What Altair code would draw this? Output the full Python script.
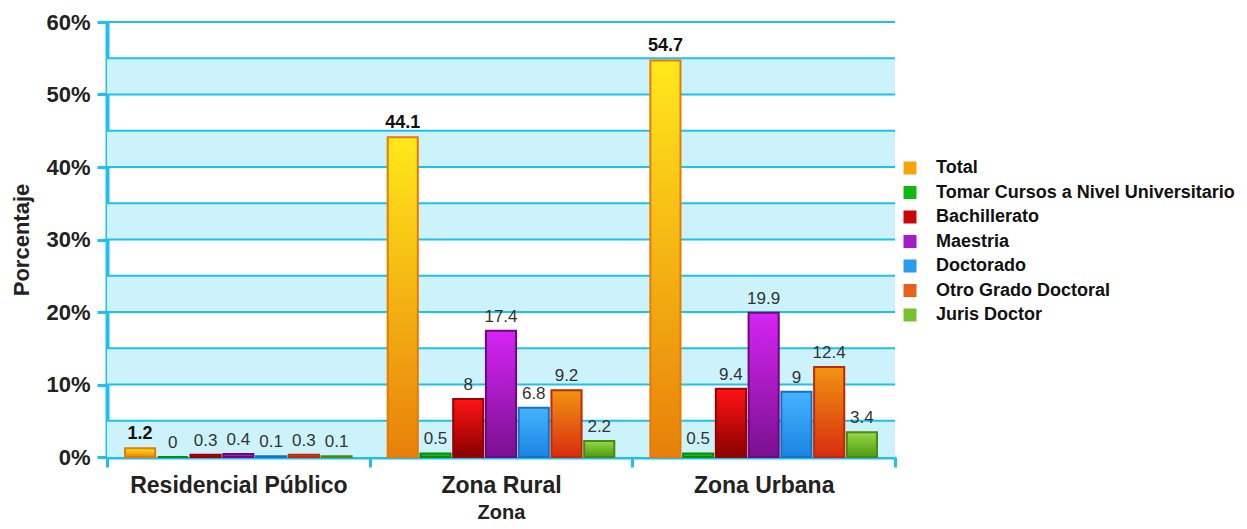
import altair as alt
import pandas as pd

zonas = ["Residencial Público", "Zona Rural", "Zona Urbana"]
series = ["Total", "Tomar Cursos a Nivel Universitario", "Bachillerato", "Maestria",
          "Doctorado", "Otro Grado Doctoral", "Juris Doctor"]
residencial = [1.2, 0, 0.3, 0.4, 0.1, 0.3, 0.1]
rural = [44.1, 0.5, 8, 17.4, 6.8, 9.2, 2.2]
urbana = [54.7, 0.5, 9.4, 19.9, 9, 12.4, 3.4]
y_ticks = [0, 10, 20, 30, 40, 50, 60]
band_starts = [0, 10, 20, 30, 40, 50]
band_ends = [5, 15, 25, 35, 45, 55]
grid_lines = [5, 10, 15, 20, 25, 30, 35, 40, 45, 50, 55, 60]

solid = ["#F2A60C", "#12B812", "#C80808", "#A41CC8", "#2A9CEE", "#E8601A", "#78C230"]
grad_top = ["#FFE81C", "#30D030", "#FF1414", "#D624F4", "#44B4FF", "#F29410", "#96D848"]
grad_bot = ["#E8800A", "#10A010", "#880000", "#7A1090", "#1C84E0", "#D82C10", "#4E9A10"]
strokes = ["#E87A00", "#0A8A0A", "#9A0000", "#6A0A80", "#1670C8", "#C02808", "#4A8A10"]

rows = []
for z, vals in zip(zonas, [residencial, rural, urbana]):
    for s, v in zip(series, vals):
        rows.append({"Zona": z, "Serie": s, "Valor": v})
df = pd.DataFrame(rows)
bands = pd.DataFrame({"lo": band_starts, "hi": band_ends})
grid = pd.DataFrame({"g": grid_lines})

W, H = 788, 435
AXC = "#1EC0F0"
FONT = "Liberation Sans"

x_enc = alt.X("Zona:N", scale=alt.Scale(domain=zonas, paddingInner=0, paddingOuter=0),
              axis=alt.Axis(title="Zona", labelFontSize=23, labelFontWeight="bold", labelColor="#222",
                            titleFontSize=20, titleFontWeight="bold", titleColor="#222",
                            labelFont=FONT, titleFont=FONT, labelAngle=0, labelLimit=300,
                            domainColor=AXC, domainWidth=4, tickColor=AXC, tickWidth=3, tickSize=10,
                            tickBand="extent", labelPadding=7, titlePadding=5))
xo_enc = alt.XOffset("Serie:N", scale=alt.Scale(domain=series, paddingInner=0.08, paddingOuter=0.55))
y_scale = alt.Scale(domain=[0, 60], nice=False)
y_axis = alt.Axis(title="Porcentaje", values=y_ticks, labelExpr="datum.value + '%'",
                  labelFontSize=22, labelFontWeight="bold", labelColor="#222",
                  titleFontSize=22, titleFontWeight="bold", titleColor="#222",
                  labelFont=FONT, titleFont=FONT, grid=False,
                  domainColor=AXC, domainWidth=4, tickColor=AXC, tickWidth=3, tickSize=10,
                  labelPadding=7, titlePadding=12)
y_enc = alt.Y("Valor:Q", scale=y_scale, axis=y_axis, title="Porcentaje")

band_layer = alt.Chart(bands).mark_rect(color="#CCF2FC").encode(
    y=alt.Y("lo:Q", scale=y_scale, axis=y_axis, title="Porcentaje"),
    y2=alt.Y2("hi"),
    x=alt.value(0), x2=alt.value(W))
grid_layer = alt.Chart(grid).mark_rule(color=AXC, strokeWidth=2).encode(
    y=alt.Y("g:Q", scale=y_scale, axis=y_axis, title="Porcentaje"),
    x=alt.value(0), x2=alt.value(W))

base = alt.Chart(df).mark_bar(strokeWidth=0).encode(
    x=x_enc, xOffset=xo_enc, y=y_enc,
    color=alt.Color("Serie:N", scale=alt.Scale(domain=series, range=solid),
                    legend=alt.Legend(title=None, orient="none", legendX=794, legendY=137,
                                      symbolType="square", symbolSize=169, symbolStrokeWidth=0,
                                      labelFontSize=18, labelFontWeight="bold", labelColor="#111",
                                      labelFont=FONT, rowPadding=6.5, labelOffset=17, labelLimit=420)))

layers = [band_layer, grid_layer, base]
for i, s in enumerate(series):
    g = alt.Gradient(gradient="linear", x1=0, x2=0, y1=0, y2=1,
                     stops=[alt.GradientStop(color=grad_top[i], offset=0),
                            alt.GradientStop(color=grad_bot[i], offset=1)])
    layers.append(alt.Chart(df).transform_filter(alt.datum.Serie == s).mark_bar(
        fill=g, stroke=strokes[i], strokeWidth=2).encode(x=x_enc, xOffset=xo_enc, y=y_enc))

lab_total = alt.Chart(df).transform_filter(alt.datum.Serie == "Total").mark_text(
    fontSize=18, fontWeight="bold", color="#111", font=FONT, dy=-9, baseline="alphabetic").encode(
    x=x_enc, xOffset=xo_enc, y=y_enc, text=alt.Text("Valor:Q"))
lab_other = alt.Chart(df).transform_filter(alt.datum.Serie != "Total").mark_text(
    fontSize=17, color="#333", font=FONT, dy=-9, baseline="alphabetic").encode(
    x=x_enc, xOffset=xo_enc, y=y_enc, text=alt.Text("Valor:Q"))
layers += [lab_total, lab_other]

chart = alt.layer(*layers).properties(
    width=W, height=H,
    autosize=alt.AutoSizeParams(type="none"),
    padding={"left": 99, "top": 14, "right": 344, "bottom": 72},
    background="white",
).configure_view(strokeWidth=0)

chart.save("out.html", embed_options={"renderer": "svg", "actions": False})
